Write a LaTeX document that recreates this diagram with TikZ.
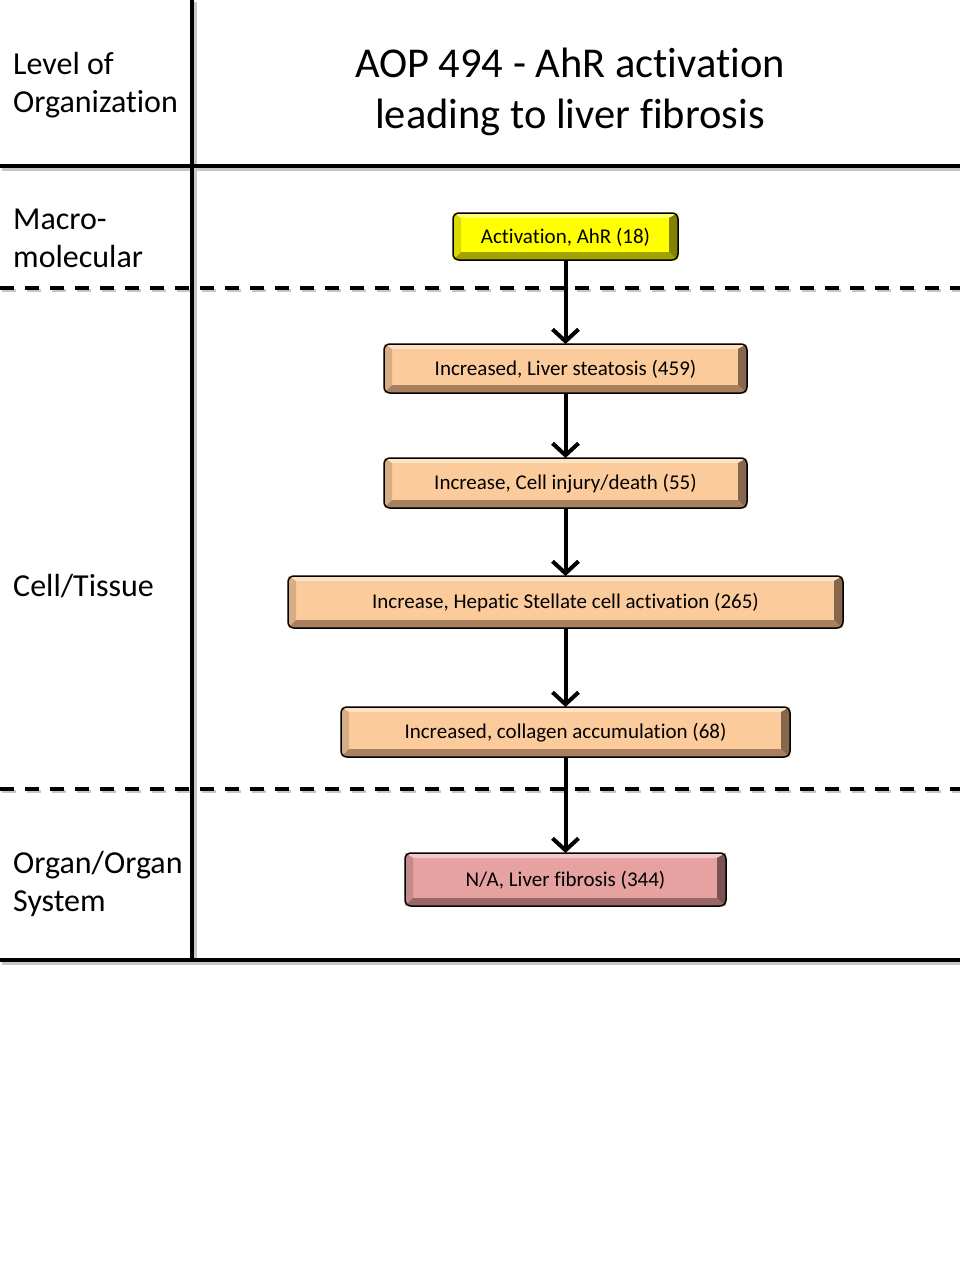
\documentclass[tikz,border=0pt]{standalone}
\usepackage{fontspec}
\setmainfont[Ligatures=NoCommon]{Carlito}
\usetikzlibrary{arrows.meta,calc}
\newcommand{\aopbox}[9]{%
  \node[aopnode, fill=#6, minimum width=#4, minimum height=#5] (#1) at (#2,#3) {};
  \begin{scope}
    \clip[rounded corners=6] (#1.south west) rectangle (#1.north east);
    \fill[#8] (#1.north west) -- (#1.north east) -- ($(#1.north east)+(-9,5)$) -- ($(#1.north west)+(8,5)$) -- cycle;
    \fill[#6!85!black] (#1.north west) -- ($(#1.north west)+(8,5)$) -- ($(#1.south west)+(8,-8)$) -- (#1.south west) -- cycle;
    \fill[#7] (#1.south west) -- ($(#1.south west)+(8,-8)$) -- ($(#1.south east)+(-9,-8)$) -- (#1.south east) -- cycle;
    \fill[#7!80!black] (#1.north east) -- ($(#1.north east)+(-9,5)$) -- ($(#1.south east)+(-9,-8)$) -- (#1.south east) -- cycle;
  \end{scope}
  \draw[line width=1.5, rounded corners=6] (#1.south west) rectangle (#1.north east);
  \node[boxtext] at ($(#1.center)+(0,1)$) {#9};
}
\begin{document}
\begin{tikzpicture}[x=1pt,y=-1pt,
  aopnode/.style={rectangle, inner sep=0, outer sep=0},
  boxtext/.style={font=\fontsize{21}{25}\selectfont, inner sep=0},
  frame/.style={line width=4.5},
  shadowline/.style={line width=4.5, draw=black!22},
  dashline/.style={line width=3.5, dash pattern=on 14 off 11},
  lbl/.style={font=\fontsize{32}{38}\selectfont, align=left, anchor=west, inner sep=0},
  arr/.style={line width=4, -{Straight Barb[length=12, width=26]}}
]
\useasboundingbox (0,0) rectangle (960,1280);
\fill[white] (0,0) rectangle (960,1280);

% shadows
\draw[shadowline] (194.5,2) -- (194.5,962);
\draw[shadowline] (2,168.5) -- (962,168.5);
\draw[shadowline] (2,962.5) -- (962,962.5);
\draw[shadowline, line width=3.5, dash pattern=on 14 off 11] (2,290.5) -- (962,290.5);
\draw[shadowline, line width=3.5, dash pattern=on 14 off 11] (2,791.5) -- (962,791.5);

% frame
\draw[frame] (192,0) coordinate (vt) -- (192,960) coordinate (vb);
\draw[frame] (0,166) coordinate (h1l) -- (960,166) coordinate (h1r);
\draw[frame] (0,960) coordinate (h2l) -- (960,960) coordinate (h2r);
\draw[dashline] (0,288) coordinate (d1l) -- (960,288) coordinate (d1r);
\draw[dashline] (0,789) coordinate (d2l) -- (960,789) coordinate (d2r);

% labels
\node[lbl] (l1) at (13,85) {Level of\\Organization};
\node[lbl] (l2) at (13,238) {Macro-\\molecular};
\node[lbl] (l3) at (13,586) {Cell/Tissue};
\node[lbl] (l4) at (13,884) {Organ/Organ\\System};
\node[font=\fontsize{42.5}{51}\selectfont, align=center, inner sep=0] (title) at (570,92) {AOP 494 - AhR activation\\leading to liver fibrosis};

% boxes
\definecolor{yel}{HTML}{FFFF00}
\definecolor{yeld}{HTML}{A3A300}
\definecolor{yell}{HTML}{FFFF70}
\definecolor{ora}{HTML}{FCCB9B}
\definecolor{orad}{HTML}{A8805F}
\definecolor{oral}{HTML}{FEE2C6}
\definecolor{pnk}{HTML}{E6A1A1}
\definecolor{pnkd}{HTML}{9A6666}
\definecolor{pnkl}{HTML}{F2C8C8}

\aopbox{b1}{565.5}{236.5}{225}{47}{yel}{yeld}{yell}{Activation, AhR (18)}
\aopbox{b2}{565.5}{368.5}{363}{49}{ora}{orad}{oral}{Increased, Liver steatosis (459)}
\aopbox{b3}{565.5}{483}{363}{50}{ora}{orad}{oral}{Increase, Cell injury/death (55)}
\aopbox{b4}{565.5}{602}{555}{52}{ora}{orad}{oral}{Increase, Hepatic Stellate cell activation (265)}
\aopbox{b5}{565.5}{732}{449}{50}{ora}{orad}{oral}{Increased, collagen accumulation (68)}
\aopbox{b6}{565.5}{879.5}{321}{53}{pnk}{pnkd}{pnkl}{N/A, Liver fibrosis (344)}

% arrows
\draw[arr] (b1.south) -- (b2.north);
\draw[arr] (b2.south) -- (b3.north);
\draw[arr] (b3.south) -- (b4.north);
\draw[arr] (b4.south) -- (b5.north);
\draw[arr] (b5.south) -- (b6.north);
\end{tikzpicture}
\end{document}
